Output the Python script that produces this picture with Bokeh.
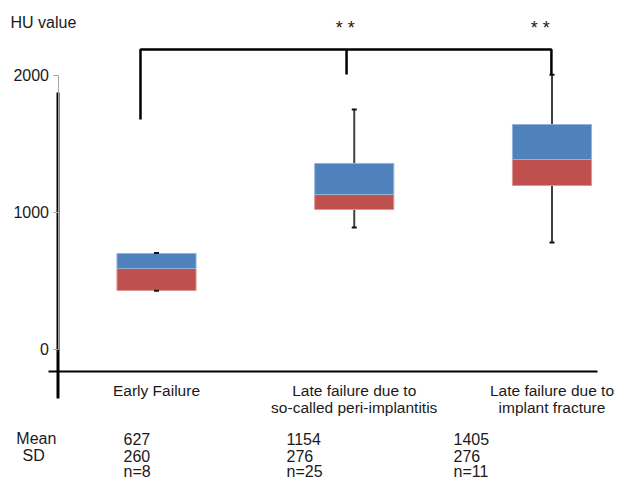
from bokeh.plotting import figure
from bokeh.models import Range1d, FixedTicker, Label, LinearAxis, ColumnDataSource
from bokeh.embed import file_html
from bokeh.resources import INLINE

# ---------------- data ----------------
categories = ["Early Failure",
              "Late failure due to\nso-called peri-implantitis",
              "Late failure due to\nimplant fracture"]
whisker_low = [428, 891, 781]
box_bottom = [431, 1022, 1197]
box_mid = [591, 1131, 1387]
box_top = [701, 1358, 1642]
whisker_high = [705, 1752, 2005]
means = ["627", "1154", "1405"]
sds = ["260", "276", "276"]
ns = ["n=8", "n=25", "n=11"]
y_ticks = [0, 1000, 2000]
significance = ["* *", "* *"]

FONT = "Liberation Sans"
TXT = "#1a1a1a"
BLUE = "#4F81BD"
RED = "#C0504D"

xpos = list(range(len(categories)))

# layout constants (annotation positions, in data units)
AXIS_X = -0.4981       # x of the y-axis line
BASE_Y = -160.6        # y of the horizontal base line

p = figure(width=627, height=481, output_backend="svg", toolbar_location=None,
           x_range=Range1d(-0.7889, 2.3818), y_range=Range1d(-963.5, 2547.4),
           min_border_left=0, min_border_right=0, min_border_top=0,
           min_border_bottom=0, x_axis_location=None, y_axis_location=None)
p.outline_line_color = None
p.xgrid.visible = False
p.ygrid.visible = False
p.background_fill_color = "white"
p.border_fill_color = "white"

# y axis, fixed inside the frame
yax = LinearAxis(fixed_location=AXIS_X, ticker=FixedTicker(ticks=y_ticks), bounds=(0, 2000))
yax.axis_line_color = "#A6A6A6"
yax.axis_line_width = 1
yax.major_tick_line_color = "#A6A6A6"
yax.major_tick_out = 5
yax.major_tick_in = 0
yax.minor_tick_line_color = None
yax.major_label_standoff = 4
yax.major_label_text_font = FONT
yax.major_label_text_font_size = "16px"
yax.major_label_text_color = TXT
p.add_layout(yax, "left")

# x axis with category labels, fixed at the base line
xax = LinearAxis(fixed_location=BASE_Y, ticker=FixedTicker(ticks=xpos))
xax.major_label_overrides = {i: c for i, c in zip(xpos, categories)}
xax.axis_line_color = None
xax.major_tick_line_color = None
xax.minor_tick_line_color = None
xax.major_tick_out = 0
xax.major_tick_in = 0
xax.major_label_standoff = 10
xax.major_label_text_font = FONT
xax.major_label_text_font_size = "15.5px"
xax.major_label_text_color = TXT
xax.major_label_text_line_height = 1.0
p.add_layout(xax, "below")

src = ColumnDataSource(dict(x=xpos, lo=whisker_low, b=box_bottom, m=box_mid,
                            t=box_top, hi=whisker_high))

# whiskers
p.segment(x0="x", y0="t", x1="x", y1="hi", source=src, line_color="#404040", line_width=2)
p.segment(x0="x", y0="lo", x1="x", y1="b", source=src, line_color="#404040", line_width=2)

# boxes
p.vbar(x="x", width=0.4, bottom="b", top="m", source=src, fill_color=RED,
       line_color="#D99694", line_width=1)
p.vbar(x="x", width=0.4, bottom="m", top="t", source=src, fill_color=BLUE,
       line_color="#95B3D7", line_width=1)
# whisker caps
p.scatter(x="x", y="hi", source=src, marker="dash", size=5, line_color="#111111", line_width=2)
p.scatter(x="x", y="lo", source=src, marker="dash", size=5, line_color="#111111", line_width=2)

# significance bracket
BR_Y = 2190
p.line(x=[-0.081, -0.081, 1.997, 1.997], y=[1679, BR_Y, BR_Y, 2007],
       line_color="black", line_width=2.5)
p.line(x=[0.961, 0.961], y=[BR_Y, 2007], line_color="black", line_width=2.5)
for xs, s in zip([0.955, 1.94], significance):
    p.add_layout(Label(x=xs, y=2350, text=s, text_align="center", text_baseline="middle",
                       text_font=FONT, text_font_size="18px", text_color=TXT))

# frame lines
p.segment(x0=[-0.5461], y0=[BASE_Y], x1=[2.2301], y1=[BASE_Y], line_color="black", line_width=2)
p.segment(x0=[AXIS_X], y0=[1876], x1=[AXIS_X], y1=[-358], line_color="black", line_width=3)

# y title
p.add_layout(Label(x=-0.738, y=2387, text="HU value", text_align="left", text_baseline="middle",
                   text_font=FONT, text_font_size="16px", text_color=TXT))

# summary rows
row_y = [-650, -774, -891]
p.add_layout(Label(x=-0.7087, y=row_y[0], text="Mean", text_align="left", text_baseline="middle",
                   text_font=FONT, text_font_size="16px", text_color=TXT))
p.add_layout(Label(x=-0.6776, y=row_y[1], text="SD", text_align="left", text_baseline="middle",
                   text_font=FONT, text_font_size="16px", text_color=TXT))
value_x = [-0.1669, 0.6574, 1.5019]
for vx, mtxt, stxt, ntxt in zip(value_x, means, sds, ns):
    for yy, t in zip(row_y, [mtxt, stxt, ntxt]):
        p.add_layout(Label(x=vx, y=yy, text=t, text_align="left", text_baseline="middle",
                           text_font=FONT, text_font_size="16px", text_color=TXT))

open("out.html", "w").write(file_html(p, INLINE))
